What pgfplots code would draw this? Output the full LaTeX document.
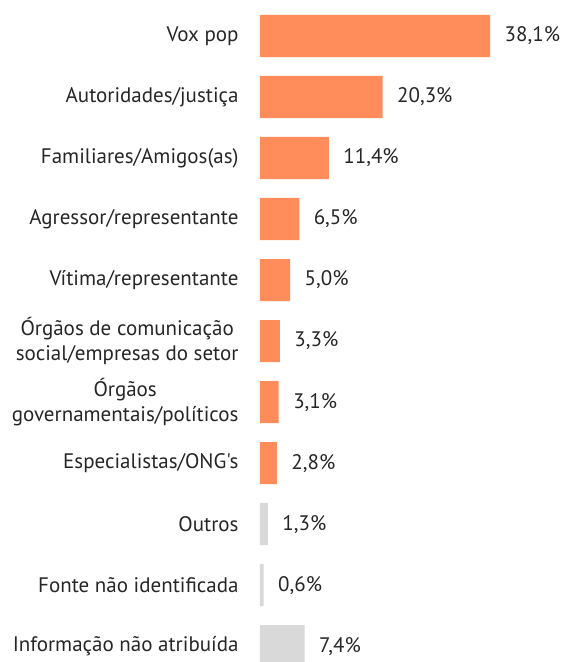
\documentclass[border=0pt]{standalone}
\usepackage{pgfplots}
\pgfplotsset{compat=1.18}
\usepackage{fontspec}
\setmainfont{PT Sans}[Ligatures=TeXOff]
\definecolor{barorange}{RGB}{255,140,90}
\definecolor{bargray}{RGB}{217,217,217}

\begin{document}
\begin{tikzpicture}
\useasboundingbox (0,0) rectangle (561pt,662pt);
\begin{axis}[
  at={(260pt,0pt)}, anchor=south west,
  scale only axis, width=290pt, height=647pt,
  xbar, bar width=0.69, bar shift=0pt,
  xmin=0, xmax=48,
  ymin=-0.344, ymax=10.26, y dir=reverse,
  axis line style={draw=none}, tick style={draw=none},
  ytick={0,...,10},
  yticklabels={Vox pop, Autoridades/justiça, Familiares/Amigos(as),
    Agressor/representante, Vítima/representante,
    {Órgãos de comunicação\\social/empresas do setor},
    {Órgãos\\governamentais/políticos}, Especialistas/ONG's,
    Outros, Fonte não identificada, Informação não atribuída},
  yticklabel style={align=center, anchor=east, inner sep=0pt, xshift=-17pt,
    font=\fontsize{21}{25}\selectfont, text=black!85},
  hide x axis,
  /pgf/number format/assume math mode=true,
  nodes near coords={\pgfmathprintnumber[fixed,fixed zerofill,precision=1,use comma]{\pgfplotspointmeta}\%},
  nodes near coords style={anchor=west, xshift=11pt, font=\fontsize{21}{25}\selectfont, text=black!85},
  clip=false,
]
\addplot[fill=barorange, draw=none] coordinates {
  (38.1,0) (20.3,1) (11.4,2) (6.5,3) (5.0,4) (3.3,5) (3.1,6) (2.8,7)};
\addplot[fill=bargray, draw=none] coordinates {
  (1.3,8) (0.6,9) (7.4,10)};
\end{axis}
\end{tikzpicture}
\end{document}
